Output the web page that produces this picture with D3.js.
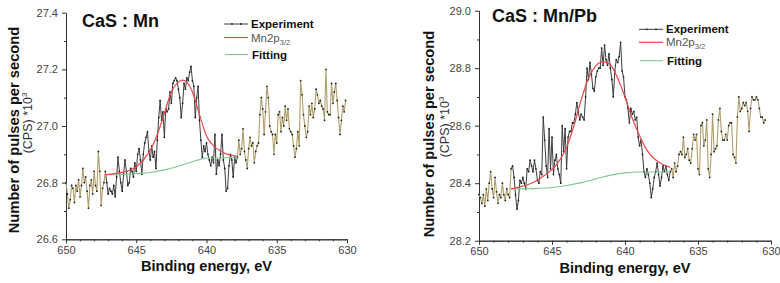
<!DOCTYPE html>
<html lang="en">
<head>
<meta charset="UTF-8">
<title>CaS Mn2p XPS</title>
<script src="https://d3js.org/d3.v7.min.js"></script>
<style>
    body { margin: 0; background: #fff; }
    text { font-family: "Liberation Sans", Arial, sans-serif; }
</style>
</head>
<body>
<script>
    // binding energy grid of the scans (eV), descending
    var scanStart = 650.0, scanStep = 0.1;

    var energyTicks = [650, 645, 640, 635, 630];
    var mnTicks = [26.6, 26.8, 27.0, 27.2, 27.4];
    var mnPbTicks = [28.2, 28.4, 28.6, 28.8, 29.0];

    // CaS:Mn  counts *10^3, 650.0 -> 630.1 eV
    var mnCounts = [
        26.80, 26.76, 26.71, 26.74, 26.79, 26.78, 26.73, 26.79, 26.77, 26.81,
        26.75, 26.79, 26.85, 26.80, 26.82, 26.77, 26.71, 26.79, 26.81, 26.76,
        26.84, 26.79, 26.77, 26.91, 26.84, 26.72, 26.78, 26.80, 26.84, 26.80,
        26.76, 26.78, 26.77, 26.76, 26.79, 26.75, 26.82, 26.89, 26.84, 26.80,
        26.77, 26.83, 26.88, 26.84, 26.79, 26.80, 26.85, 26.84, 26.82, 26.87,
        26.84, 26.90, 26.92, 26.88, 26.83, 26.90, 26.94, 26.96, 26.98, 26.91,
        26.88, 26.93, 26.89, 26.91, 26.85, 26.95, 27.03, 27.09, 27.02, 27.05,
        26.96, 27.06, 27.05, 27.06, 27.12, 27.08, 27.15, 27.16, 27.17, 27.16,
        27.13, 27.10, 27.03, 27.08, 27.15, 27.13, 27.17, 27.16, 27.19, 27.21,
        27.16, 27.14, 27.03, 27.10, 27.14, 27.02, 26.95, 26.89, 26.93, 26.91,
        26.94, 26.90, 26.88, 26.86, 26.89, 26.87, 26.97, 26.83, 26.88, 26.86,
        26.90, 26.97, 26.88, 26.85, 26.77, 26.78, 26.86, 26.90, 26.88, 26.82,
        26.89, 26.87, 26.89, 26.95, 26.90, 26.92, 26.99, 26.91, 26.88, 26.85,
        26.92, 26.96, 26.93, 26.94, 26.87, 26.91, 26.93, 26.94, 27.04, 27.10,
        27.06, 26.97, 27.05, 27.14, 27.10, 27.00, 26.98, 26.97, 26.90, 26.97,
        26.94, 27.04, 27.05, 26.98, 27.03, 27.00, 27.07, 27.02, 27.06, 26.99,
        26.98, 26.97, 26.93, 26.89, 26.92, 26.98, 26.93, 27.16, 27.11, 27.04,
        27.00, 26.96, 26.98, 27.07, 27.04, 27.08, 27.03, 27.06, 27.13, 27.11,
        27.08, 27.09, 27.07, 27.06, 27.02, 27.20, 27.05, 27.04, 27.04, 27.15,
        27.08, 27.12, 27.15, 27.09, 27.03, 26.97, 27.02, 27.07, 27.05, 27.09
    ];
    var mnFitRange = [647.2, 637.8];
    var mnPeakEnergy = [647.2, 646.5, 646.0, 645.5, 645.0, 644.5, 644.0, 643.5, 643.0, 642.5, 642.0,
        641.7, 641.4, 641.0, 640.5, 640.0, 639.5, 639.0, 638.5, 638.0, 637.8];
    var mnPeak = [26.828, 26.832, 26.836, 26.843, 26.856, 26.880, 26.915, 26.970, 27.045, 27.120, 27.155,
        27.162, 27.155, 27.120, 27.040, 26.965, 26.930, 26.912, 26.900, 26.895, 26.894];
    var mnBgEnergy = [647.2, 646.0, 645.0, 644.0, 643.0, 642.0, 641.0, 640.3, 639.5, 638.5, 637.8];
    var mnBackground = [26.828, 26.829, 26.832, 26.836, 26.845, 26.858, 26.874, 26.884, 26.887, 26.888, 26.888];

    // CaS:Mn/Pb  counts *10^3, 650.0 -> 630.4 eV
    var mnPbCounts = [
        28.36, 28.35, 28.33, 28.36, 28.32, 28.38, 28.34, 28.40, 28.44, 28.38,
        28.35, 28.42, 28.37, 28.33, 28.36, 28.35, 28.40, 28.36, 28.34, 28.38,
        28.36, 28.35, 28.45, 28.46, 28.42, 28.36, 28.31, 28.34, 28.41, 28.40,
        28.42, 28.40, 28.38, 28.45, 28.44, 28.48, 28.46, 28.44, 28.48, 28.45,
        28.41, 28.40, 28.44, 28.43, 28.63, 28.55, 28.46, 28.42, 28.59, 28.45,
        28.56, 28.43, 28.48, 28.50, 28.45, 28.43, 28.40, 28.60, 28.51, 28.59,
        28.45, 28.56, 28.58, 28.58, 28.61, 28.61, 28.64, 28.68, 28.65, 28.62,
        28.64, 28.63, 28.62, 28.70, 28.80, 28.76, 28.82, 28.78, 28.73, 28.72,
        28.77, 28.79, 28.80, 28.80, 28.87, 28.81, 28.88, 28.83, 28.81, 28.85,
        28.80, 28.76, 28.70, 28.79, 28.83, 28.82, 28.84, 28.89, 28.79, 28.77,
        28.70, 28.69, 28.66, 28.61, 28.66, 28.64, 28.65, 28.62, 28.63, 28.56,
        28.53, 28.55, 28.50, 28.44, 28.42, 28.45, 28.43, 28.40, 28.35, 28.38,
        28.42, 28.44, 28.47, 28.43, 28.39, 28.42, 28.46, 28.44, 28.46, 28.43,
        28.41, 28.44, 28.45, 28.42, 28.47, 28.44, 28.46, 28.50, 28.51, 28.50,
        28.56, 28.49, 28.50, 28.52, 28.48, 28.47, 28.52, 28.57, 28.55, 28.57,
        28.45, 28.43, 28.60, 28.61, 28.53, 28.55, 28.62, 28.45, 28.42, 28.50,
        28.64, 28.51, 28.52, 28.53, 28.62, 28.66, 28.58, 28.55, 28.55, 28.57,
        28.55, 28.60, 28.61, 28.61, 28.50, 28.49, 28.47, 28.63, 28.70, 28.65,
        28.66, 28.68, 28.67, 28.68, 28.65, 28.58, 28.66, 28.70, 28.69, 28.69,
        28.70, 28.69, 28.66, 28.63, 28.63, 28.61, 28.62
    ];
    var mnPbFitRange = [647.8, 636.9];
    var mnPbPeakEnergy = [647.8, 647.0, 646.5, 646.0, 645.5, 645.0, 644.5, 644.0, 643.5, 643.0, 642.5,
        642.0, 641.5, 641.0, 640.5, 640.0, 639.5, 639.0, 638.5, 638.0, 637.5, 636.9];
    var mnPbPeak = [28.380, 28.390, 28.398, 28.410, 28.428, 28.447, 28.478, 28.525, 28.600, 28.690, 28.765,
        28.808, 28.823, 28.812, 28.765, 28.700, 28.625, 28.565, 28.515, 28.485, 28.468, 28.455];
    var mnPbBgEnergy = [647.8, 646.0, 645.0, 644.0, 643.0, 642.0, 641.0, 640.0, 639.0, 638.0, 636.9];
    var mnPbBackground = [28.380, 28.382, 28.385, 28.392, 28.402, 28.415, 28.428, 28.436, 28.439, 28.439, 28.438];

    var svg = d3.select("body").append("svg")
        .attr("width", 780)
        .attr("height", 283);

    function styleAxis(sel) {
        sel.selectAll("path, line").attr("stroke", "#333").attr("stroke-width", 1);
        sel.selectAll("text").attr("fill", "#444").style("font-size", "11px");
    }

    function drawPanel(p) {
        var x = d3.scaleLinear().domain([650, 630]).range([p.left, p.right]);
        var y = d3.scaleLinear().domain([p.ticks[0], p.ticks[p.ticks.length - 1]]).range([p.bottom, p.top]);
        var g = svg.append("g");

        // minor ticks
        var xMinor = d3.range(631, 650).filter(function(d) { return d % 5 !== 0; });
        var yMinor = p.ticks.slice(1).map(function(d, i) { return (d + p.ticks[i]) / 2; });
        g.append("g")
            .attr("transform", "translate(0," + p.bottom + ")")
            .call(d3.axisBottom(x).tickValues(xMinor).tickSize(2).tickSizeOuter(0).tickFormat(""))
            .call(styleAxis);
        g.append("g")
            .attr("transform", "translate(" + p.left + ",0)")
            .call(d3.axisLeft(y).tickValues(yMinor).tickSize(2).tickSizeOuter(0).tickFormat(""))
            .call(styleAxis);

        // major axes
        g.append("g")
            .attr("transform", "translate(0," + p.bottom + ")")
            .call(d3.axisBottom(x).tickValues(energyTicks).tickSize(4).tickSizeOuter(0).tickPadding(3).tickFormat(d3.format("d")))
            .call(styleAxis);
        g.append("g")
            .attr("transform", "translate(" + p.left + ",0)")
            .call(d3.axisLeft(y).tickValues(p.ticks).tickSize(4).tickSizeOuter(0).tickPadding(4).tickFormat(d3.format(".1f")))
            .call(styleAxis);

        // experiment points
        var pts = p.counts.map(function(v, i) {
            return {e: +(scanStart - i * scanStep).toFixed(1), v: v};
        });
        var line = d3.line()
            .x(function(d) { return x(d.e); })
            .y(function(d) { return y(d.v); });

        var inside = pts.filter(function(d) { return d.e <= p.fitRange[0] && d.e >= p.fitRange[1]; });
        var before = pts.filter(function(d) { return d.e >= p.fitRange[0]; });
        var after = pts.filter(function(d) { return d.e <= p.fitRange[1]; });

        g.append("path").datum(inside).attr("d", line)
            .attr("fill", "none").attr("stroke", "#3d3d3d").attr("stroke-width", 1);
        [before, after].forEach(function(seg) {
            g.append("path").datum(seg).attr("d", line)
                .attr("fill", "none").attr("stroke", "#b09f6c").attr("stroke-width", 1.1);
        });
        g.selectAll(null)
            .data(pts)
            .enter()
            .append("circle")
            .attr("cx", function(d) { return x(d.e); })
            .attr("cy", function(d) { return y(d.v); })
            .attr("r", 0.9)
            .attr("fill", "#222");

        // background and peak fit
        var curve = d3.line()
            .x(function(d) { return x(d[0]); })
            .y(function(d) { return y(d[1]); })
            .curve(d3.curveMonotoneX);
        g.append("path")
            .datum(d3.zip(p.bgEnergy, p.background))
            .attr("d", curve)
            .attr("fill", "none").attr("stroke", "#80c98c").attr("stroke-width", 1.1);
        g.append("path")
            .datum(d3.zip(p.peakEnergy, p.peak))
            .attr("d", curve)
            .attr("fill", "none").attr("stroke", "#e8474a").attr("stroke-width", 1.2);

        // sample title
        g.append("text")
            .attr("x", p.titleX).attr("y", p.titleY)
            .style("font-size", "18px").style("font-weight", "bold")
            .attr("fill", "#111")
            .text(p.title);

        // legend
        var lg = g.append("g");
        lg.append("line")
            .attr("x1", p.legX).attr("x2", p.legX + 24)
            .attr("y1", p.legY[0]).attr("y2", p.legY[0])
            .attr("stroke", "#3d3d3d").attr("stroke-width", 1);
        [p.legX + 8, p.legX + 17].forEach(function(cx) {
            lg.append("circle").attr("cx", cx).attr("cy", p.legY[0]).attr("r", 0.9).attr("fill", "#222");
        });
        lg.append("line")
            .attr("x1", p.legX).attr("x2", p.legX + 24)
            .attr("y1", p.legY[1]).attr("y2", p.legY[1])
            .attr("stroke", "#e8474a").attr("stroke-width", 1.2);
        lg.append("line")
            .attr("x1", p.legX + 1).attr("x2", p.legX + 24)
            .attr("y1", p.legY[2]).attr("y2", p.legY[2])
            .attr("stroke", "#80c98c").attr("stroke-width", 1.1);

        lg.append("text")
            .attr("x", p.legX + 27).attr("y", p.legY[0] + 4)
            .style("font-size", "11.5px").style("font-weight", "bold").attr("fill", "#111")
            .text("Experiment");
        var mn = lg.append("text")
            .attr("x", p.legX + 27).attr("y", p.legY[1] + 4)
            .style("font-size", "11.5px").attr("fill", "#555");
        mn.append("tspan").text("Mn2p");
        mn.append("tspan").attr("dy", 3).style("font-size", "7.5px").text("3/2");
        lg.append("text")
            .attr("x", p.legX + 28).attr("y", p.legY[2] + 4)
            .style("font-size", "11.5px").style("font-weight", "bold").attr("fill", "#111")
            .text("Fitting");

        // axis titles
        g.append("text")
            .attr("transform", "translate(" + p.yTitleX + "," + p.yTitleY + ") rotate(-90)")
            .attr("text-anchor", "middle")
            .style("font-size", "14.7px").style("font-weight", "bold").attr("fill", "#111")
            .text("Number of pulses per second");
        var cps = g.append("text")
            .attr("transform", "translate(" + p.cpsX + "," + p.cpsY + ") rotate(-90)")
            .attr("text-anchor", "middle")
            .style("font-size", "12.5px").attr("fill", "#333");
        cps.append("tspan").text("(CPS) *10");
        cps.append("tspan").attr("dy", -5).style("font-size", "8px").text("3");

        g.append("text")
            .attr("x", (p.left + p.right) / 2).attr("y", p.xTitleY)
            .attr("text-anchor", "middle")
            .style("font-size", "14.6px").style("font-weight", "bold").attr("fill", "#111")
            .text("Binding energy, eV");
    }

    drawPanel({
        left: 66, right: 347, top: 12.7, bottom: 239.3,
        ticks: mnTicks, counts: mnCounts, fitRange: mnFitRange,
        peakEnergy: mnPeakEnergy, peak: mnPeak, bgEnergy: mnBgEnergy, background: mnBackground,
        title: "CaS : Mn", titleX: 82, titleY: 27,
        legX: 224, legY: [24, 37.5, 54.5],
        yTitleX: 18.5, yTitleY: 130, cpsX: 31.5, cpsY: 123,
        xTitleY: 271
    });

    drawPanel({
        left: 479, right: 771, top: 10.7, bottom: 240.7,
        ticks: mnPbTicks, counts: mnPbCounts, fitRange: mnPbFitRange,
        peakEnergy: mnPbPeakEnergy, peak: mnPbPeak, bgEnergy: mnPbBgEnergy, background: mnPbBackground,
        title: "CaS : Mn/Pb", titleX: 492, titleY: 22,
        legX: 639, legY: [29.3, 42.3, 60.7],
        yTitleX: 433.5, yTitleY: 134, cpsX: 448.5, cpsY: 127,
        xTitleY: 272.5
    });
</script>
</body>
</html>
